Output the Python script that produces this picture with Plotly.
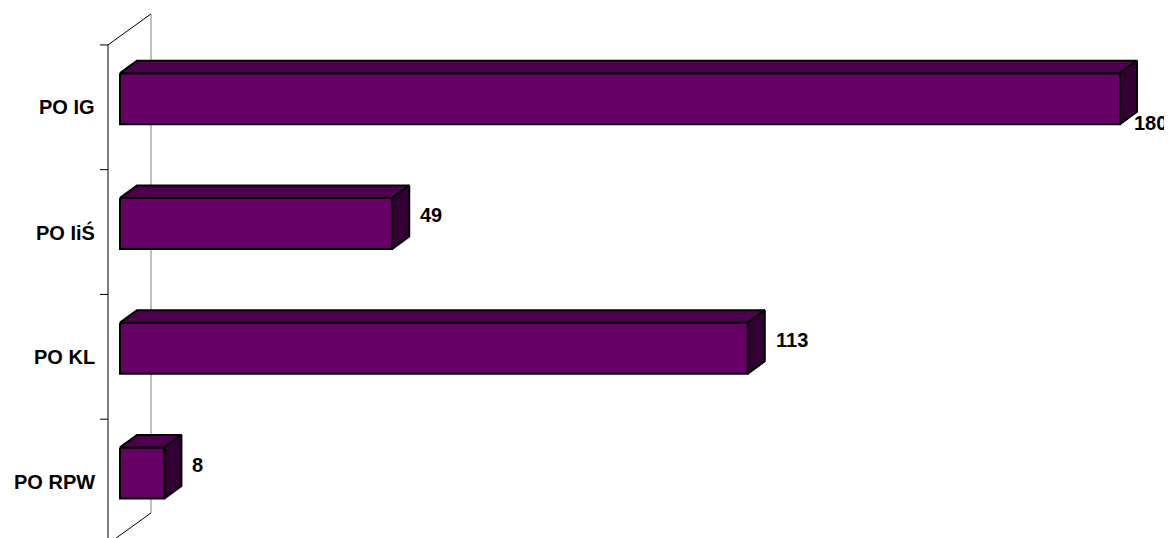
import plotly.graph_objects as go

# ---- data ----
categories = ["PO IG", "PO IiŚ", "PO KL", "PO RPW"]
values = [180, 49, 113, 8]
value_labels = ["180", "49", "113", "8"]

# ---- styling / geometry (pixels) ----
PAGE_OFF = 8           # default page body margin of the html page
W, H = 1172 - PAGE_OFF, 538 - PAGE_OFF
X0_PX = 120 - PAGE_OFF  # pixel x of value 0 (front face)
PX_PER_UNIT = 1000 / 180
SLOT_PX = 124.75        # category slot height
SLOT0_PX = 107.3 - PAGE_OFF  # pixel y of first slot centre on front wall
FRONT = "#660066"
TOP = "#4d004d"
SIDE = "#330033"
FONT = "Liberation Sans, Arial, sans-serif"
FS = 20


def ux(px):
    return px / PX_PER_UNIT


def uy(px):
    return px / SLOT_PX


x_range = [(0 - X0_PX) / PX_PER_UNIT, (W - X0_PX) / PX_PER_UNIT]
y_range = [(H - SLOT0_PX) / SLOT_PX, (0 - SLOT0_PX) / SLOT_PX]

# wall (3D side wall) geometry in data units
xw = ux(-12)                 # front wall line
wdx, wdy = ux(43), uy(-31)   # wall depth
# bar geometry in data units
bdx, bdy = ux(17), uy(-12.5)  # bar depth
boff = uy(-8.65)              # front-face centre offset
bh = uy(25.5)                 # half height of front face

n = len(categories)
y_top, y_bot = -0.5, n - 0.5

fig = go.Figure()

# front wall line
fig.add_trace(go.Scatter(x=[xw, xw], y=[y_top, y_bot], mode="lines",
                         line=dict(color="black", width=1), hoverinfo="skip"))
# back wall line
fig.add_trace(go.Scatter(x=[xw + wdx, xw + wdx], y=[y_top + wdy, y_bot + wdy], mode="lines",
                         line=dict(color="#808080", width=1), hoverinfo="skip"))
# diagonals
for yy in (y_top, y_bot):
    fig.add_trace(go.Scatter(x=[xw, xw + wdx], y=[yy, yy + wdy], mode="lines",
                             line=dict(color="black", width=1), hoverinfo="skip"))
# ticks
tx, ty = [], []
for k in range(n + 1):
    yy = k - 0.5
    tx += [xw - ux(8), xw, None]
    ty += [yy, yy, None]
fig.add_trace(go.Scatter(x=tx, y=ty, mode="lines",
                         line=dict(color="black", width=1), hoverinfo="skip"))

# bars
for i, v in enumerate(values):
    yt = i + boff - bh
    yb = i + boff + bh
    faces = [
        ([0, v, v, 0, 0], [yt, yt, yb, yb, yt], FRONT),
        ([0, v, v + bdx, bdx, 0], [yt, yt, yt + bdy, yt + bdy, yt], TOP),
        ([v, v + bdx, v + bdx, v, v], [yt, yt + bdy, yb + bdy, yb, yt], SIDE),
    ]
    for fx, fy, col in faces:
        fig.add_trace(go.Scatter(x=fx, y=fy, mode="lines", fill="toself",
                                 fillcolor=col, line=dict(color="black", width=2),
                                 hoverinfo="skip"))

font = dict(family=FONT, size=FS, color="black", weight="bold")
annotations = []
for i, c in enumerate(categories):
    annotations.append(dict(x=xw - ux(12), y=i, xref="x", yref="y", text=c,
                            showarrow=False, xanchor="right", yanchor="middle",
                            borderpad=0, font=font))

for i, (v, t) in enumerate(zip(values, value_labels)):
    left_px = X0_PX + (v + bdx) * PX_PER_UNIT + 10
    width_px = len(t) * 0.556 * FS
    if left_px + width_px > W - 4:
        annotations.append(dict(x=x_range[1], y=i + uy(16), xref="x", yref="y", text=t,
                                showarrow=False, xanchor="right", yanchor="middle",
                                xshift=-4, borderpad=0, font=font))
    else:
        annotations.append(dict(x=v + bdx, y=i + uy(-17), xref="x", yref="y", text=t,
                                showarrow=False, xanchor="left", yanchor="middle",
                                xshift=10, borderpad=0, font=font))

fig.update_layout(
    width=W, height=H,
    margin=dict(l=0, r=0, t=0, b=0),
    paper_bgcolor="white", plot_bgcolor="white",
    showlegend=False,
    xaxis=dict(range=x_range, visible=False, fixedrange=True),
    yaxis=dict(range=y_range, visible=False, fixedrange=True),
    annotations=annotations,
    hovermode=False,
)

fig.write_html("out.html")
